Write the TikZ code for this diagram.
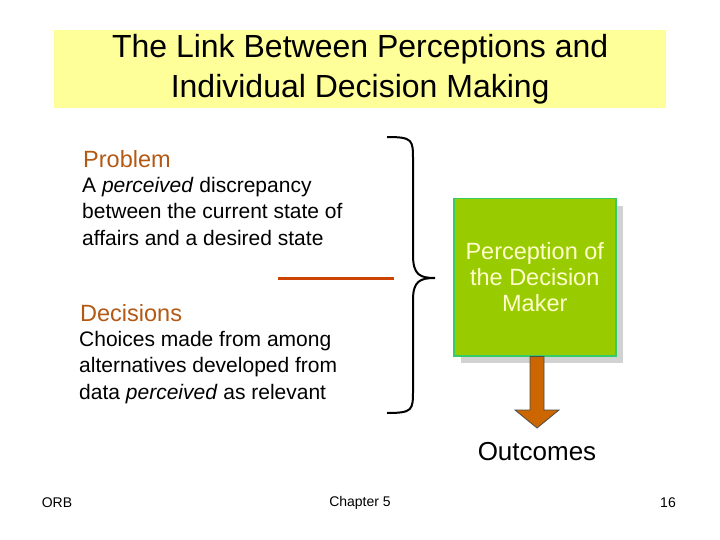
\documentclass[tikz,border=0pt]{standalone}
\usepackage{fontspec}
\setmainfont{Liberation Sans}
\begin{document}
\begin{tikzpicture}[x=1pt,y=-1pt,
  body/.style={anchor=north west,align=left,font=\fontsize{21}{26.5}\selectfont,inner sep=0},
  head/.style={anchor=west,inner sep=0,text=headc,font=\fontsize{23.5}{26}\selectfont},
  foot/.style={font=\fontsize{14}{16}\selectfont,inner sep=0}]
\definecolor{titlec}{RGB}{255,255,153}
\definecolor{headc}{RGB}{179,89,20}
\definecolor{linec}{RGB}{204,68,0}
\definecolor{greenc}{RGB}{153,204,0}
\definecolor{edgec}{RGB}{51,204,102}
\definecolor{arrc}{RGB}{204,102,0}
\useasboundingbox (0,0) rectangle (720,540);
\fill[white] (0,0) rectangle (720,540);
\node[fill=titlec,minimum width=612pt,minimum height=78pt,anchor=north west,inner sep=0,align=center,
  font=\fontsize{32}{40}\selectfont] (title) at (54,30) {The Link Between Perceptions and\\Individual Decision Making};
\node[head] (prob) at (83,159) {Problem};
\node[body] (probt) at (82,177) {A \textit{perceived} discrepancy\\between the current state of\\affairs and a desired state};
\coordinate (l1) at (278,278); \coordinate (l2) at (394,278);
\draw[linec,line width=3pt] (l1) -- (l2);
\node[head] (dec) at (80,313) {Decisions};
\node[body] (dect) at (79,331) {Choices made from among\\alternatives developed from\\data \textit{perceived} as relevant};
\coordinate (bt) at (387,137); \coordinate (bb) at (387,413); \coordinate (tip) at (435,278);
\draw[line width=2pt] (bt) .. controls (413,137) and (413,140) .. (413,160) -- (413,255)
  .. controls (413,275) and (420,278) .. (tip) .. controls (420,278) and (413,281) .. (413,300)
  -- (413,390) .. controls (413,410) and (413,413) .. (bb);
\fill[gray!35] (461,206) rectangle (623,363);
\node[fill=greenc,draw=edgec,line width=1.5pt,minimum width=162pt,minimum height=157pt,anchor=north west,
  inner sep=0,align=center,text={rgb,255:red,255;green,255;blue,204},font=\fontsize{23.5}{26}\selectfont] (box) at (453,198)
  {Perception of\\the Decision\\Maker};
\node[foot] (out) at (537,452) {\fontsize{26}{28}\selectfont Outcomes};
\draw[fill=arrc,draw=black!70,line width=0.8pt] (box.south -| 530,0) -- (530,410) -- (515,410) -- (537,428) -- (559,410) -- (544,410) -- (box.south -| 544,0) -- cycle;
\node[foot] (orb) at (57,503) {ORB};
\node[foot] (ch) at (360,503) {Chapter 5};
\node[foot] (pg) at (668,503) {16};
\end{tikzpicture}
\end{document}
